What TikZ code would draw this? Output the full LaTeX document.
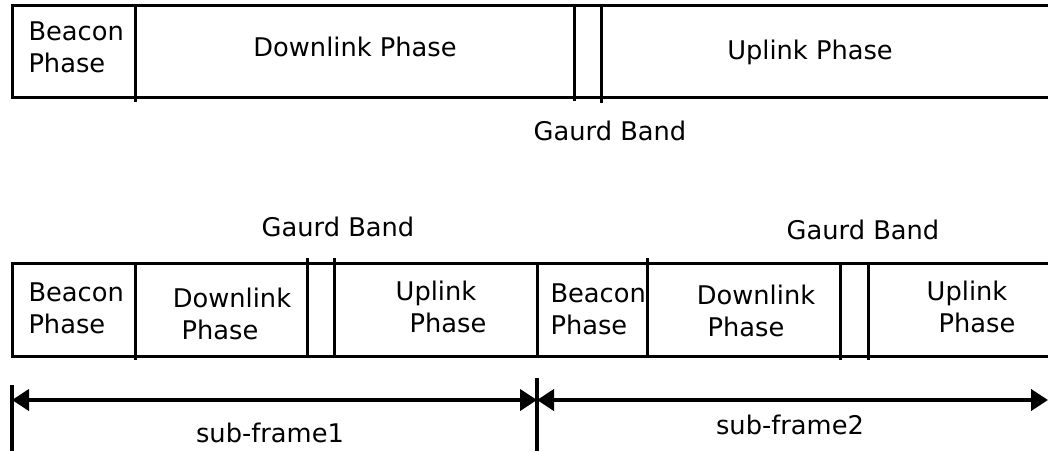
\documentclass[tikz,border=0pt]{standalone}
\usepackage{fontspec}
\setmainfont{DejaVu Sans}
\usetikzlibrary{arrows.meta}
\begin{document}
\begin{tikzpicture}[x=0.5pt,y=-0.5pt,line width=1.5pt,
  lbl/.style={font=\fontsize{12.85}{16}\selectfont,inner sep=0pt,align=center},
  lbll/.style={lbl,align=left,anchor=west},
  tick/.style={line width=2pt},
  span/.style={line width=2pt,{Triangle[length=8.5pt,width=10.5pt]}-{Triangle[length=8.5pt,width=10.5pt]}}]
\useasboundingbox (0,0) rectangle (1048,451);

% ---- single frame: beacon, downlink, guard band, uplink ----
\draw (1048,5) -- (12,5) -- (12,97) -- (1048,97);
\draw (135,5) -- (135,102);
\draw (574,5) -- (574,101);
\draw (601,5) -- (601,103);
\node[lbll] (tb) at (27,47) {Beacon\\Phase};
\node[lbl] (td) at (355,47) {Downlink Phase};
\node[lbl] (tu) at (810,52) {Uplink Phase};
\node[lbl] (tg) at (610,131) {Gaurd Band};

% ---- frame split into two sub-frames ----
\draw (1048,263) -- (12,263) -- (12,356) -- (1048,356);
\draw (135,263) -- (135,360);
\draw (307,258) -- (307,356);
\draw (334,258) -- (334,356);
\draw (537,263) -- (537,356);
\draw (647,258) -- (647,356);
\draw (840,263) -- (840,360);
\draw (868,263) -- (868,360);

\node[lbll] (b1) at (27,308) {Beacon\\Phase};
\node[lbl] (d1) at (232,314) {Downlink\\\hspace*{-12pt}Phase};
\node[lbl] (u1) at (436,307) {Uplink\\\hspace*{12pt}Phase};
\node[lbll] (b2) at (549,309) {Beacon\\Phase};
\node[lbl] (d2) at (756,311) {Downlink\\\hspace*{-10pt}Phase};
\node[lbl] (u2) at (967,307) {Uplink\\\hspace*{10pt}Phase};
\node[lbl] (g1) at (338,227) {Gaurd Band};
\node[lbl] (g2) at (863,230) {Gaurd Band};

% ---- sub-frame extents ----
\coordinate (s0) at (12,400);
\coordinate (s1) at (537,400);
\coordinate (s2) at (1048,400);
\draw[tick] (12,385) -- (12,451);
\draw[tick] (537,378) -- (537,451);
\draw[span] (s0) -- (s1);
\draw[span] (s1) -- (s2);
\node[lbl] (f1) at (270,433) {sub-frame1};
\node[lbl] (f2) at (790,425) {sub-frame2};
\end{tikzpicture}
\end{document}
